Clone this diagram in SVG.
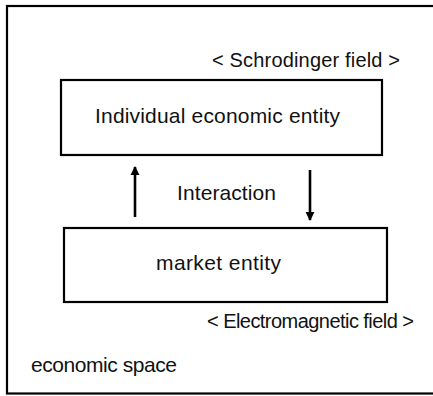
<svg xmlns="http://www.w3.org/2000/svg" width="433" height="396" viewBox="0 0 433 396">
<defs>
<style>
.box{fill:#fff;stroke:#000;stroke-width:2.2}
.t{font-family:"Liberation Sans",Arial,sans-serif;font-size:21px;fill:#111}
.s{font-size:20px}
.c{stroke:#000;stroke-width:2.6;fill:none}
</style>
<marker id="ah" viewBox="0 0 10 10" refX="9" refY="5" markerWidth="3.6" markerHeight="3.6" orient="auto" markerUnits="strokeWidth">
<path d="M0,0 L10,5 L0,10 z" fill="#000"/>
</marker>
</defs>
<rect width="433" height="396" fill="#fff"/>
<g id="space">
<rect x="7" y="6" width="440" height="387.5" fill="none" stroke="#000" stroke-width="2.2"/>
<text class="t" x="31" y="372" textLength="146">economic space</text>
</g>
<g id="individual">
<rect class="box" x="61" y="80" width="321" height="75"/>
<text class="t" x="95" y="123" textLength="245">Individual economic entity</text>
<text class="t s" x="212" y="67" textLength="188">&lt; Schrodinger field &gt;</text>
</g>
<g id="market">
<rect class="box" x="64" y="228" width="323" height="74"/>
<text class="t" x="156" y="270" textLength="125">market entity</text>
<text class="t s" x="207" y="328" textLength="207">&lt; Electromagnetic field &gt;</text>
</g>
<g id="connectors">
<line class="c" x1="135" y1="217" x2="135" y2="167" marker-end="url(#ah)"/>
<line class="c" x1="310" y1="170" x2="310" y2="220" marker-end="url(#ah)"/>
<text class="t" x="177" y="200" textLength="99">Interaction</text>
</g>
</svg>
